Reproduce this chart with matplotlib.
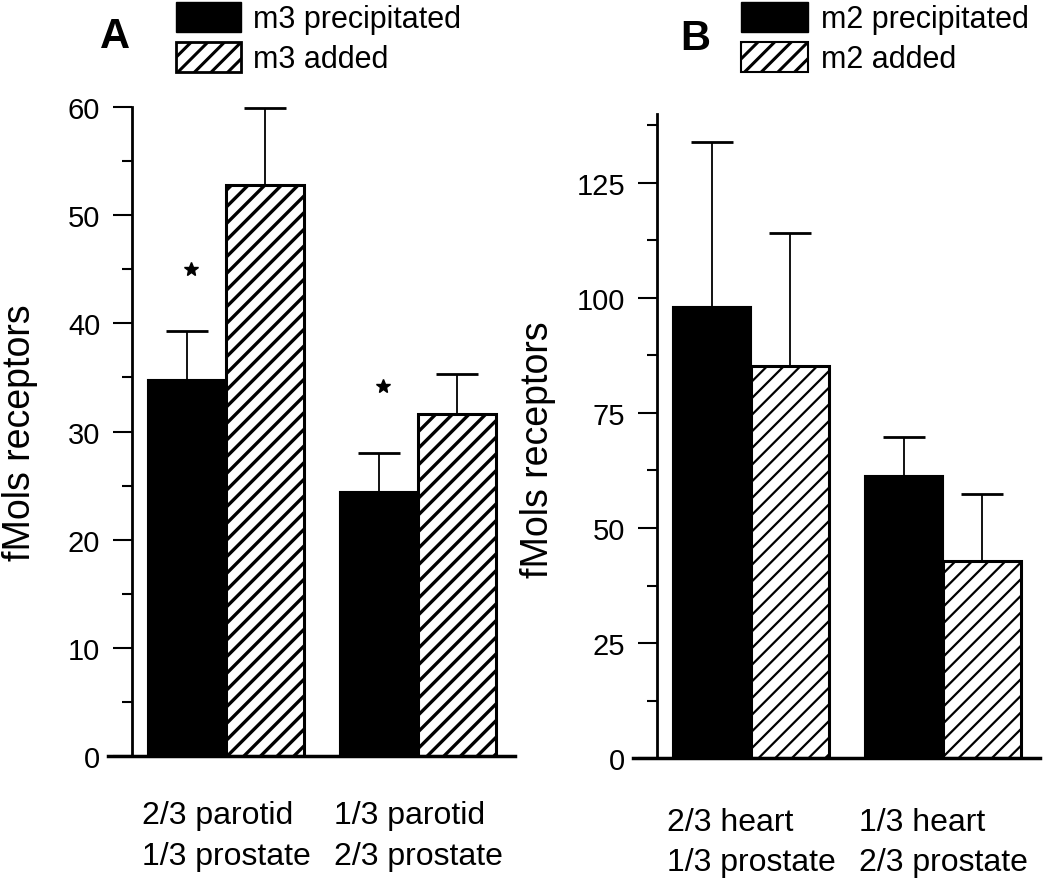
import numpy as np
import matplotlib
matplotlib.use('Agg')
import matplotlib.pyplot as plt
from matplotlib.patches import Patch
from matplotlib.ticker import MultipleLocator

plt.rcParams['font.family'] = ['Liberation Sans', 'DejaVu Sans']
plt.rcParams['hatch.linewidth'] = 2.2

# panel A data
groups_a = ['2/3 parotid\n1/3 prostate', '1/3 parotid\n2/3 prostate']
precip_a = [34.8, 24.4]
precip_a_err = [4.5, 3.6]
added_a = [52.8, 31.6]
added_a_err = [7.1, 3.7]
star_a = [45.0, 34.2]

# panel B data
groups_b = ['2/3 heart\n1/3 prostate', '1/3 heart\n2/3 prostate']
precip_b = [98.0, 61.3]
precip_b_err = [35.9, 8.5]
added_b = [85.2, 42.8]
added_b_err = [28.9, 14.6]

fig = plt.figure(figsize=(10.5, 8.79), dpi=100)
ax_a = fig.add_axes([0.1029, 0.1388, 0.3876, 0.7382])
ax_b = fig.add_axes([0.6029, 0.1365, 0.3876, 0.7327])


def draw_panel(ax, groups, precip, precip_err, added, added_err, ymax, major, minor,
               hatch_lw, xpad):
    x = np.arange(len(groups)) * 2.46
    ax.bar(x - 0.5, precip, width=1.0, color='black', edgecolor='black', linewidth=1.5)
    with plt.rc_context({'hatch.linewidth': hatch_lw}):
        ax.bar(x + 0.5, added, width=1.0, color='white', edgecolor='black',
               linewidth=2.2, hatch='//')
    ax.errorbar(x - 0.5, precip, yerr=[np.zeros(len(x)), precip_err], fmt='none',
                ecolor='black', elinewidth=1.3, capsize=15, capthick=2)
    ax.errorbar(x + 0.5, added, yerr=[np.zeros(len(x)), added_err], fmt='none',
                ecolor='black', elinewidth=1.3, capsize=15, capthick=2)
    ax.set_xlim(-1.51, x[-1] + 1.24)
    ax.set_ylim(0, ymax)
    ax.spines['left'].set_position(('data', -1.2))
    ax.spines['top'].set_visible(False)
    ax.spines['right'].set_visible(False)
    ax.spines['left'].set_linewidth(2)
    ax.spines['bottom'].set_linewidth(2.5)
    ax.yaxis.set_major_locator(MultipleLocator(major))
    ax.yaxis.set_minor_locator(MultipleLocator(minor))
    ax.tick_params(axis='y', which='major', direction='out', length=14, width=1.5,
                   labelsize=21, pad=9)
    ax.tick_params(axis='y', which='minor', direction='out', length=7, width=1.5)
    ax.set_xticks(x)
    ax.set_xticklabels(groups, fontsize=23, linespacing=1.45, multialignment='left')
    ax.tick_params(axis='x', length=0, pad=xpad)
    ax.set_ylabel('fMols receptors', fontsize=27)
    return x


xa = draw_panel(ax_a, groups_a, precip_a, precip_a_err, added_a, added_a_err,
                60, 10, 5, 2.4, 32)
ax_a.plot(xa - 0.45, star_a, linestyle='none', marker='*', color='black', markersize=10)
draw_panel(ax_b, groups_b, precip_b, precip_b_err, added_b, added_b_err,
           140, 25, 12.5, 1.6, 35)

ax_a.yaxis.set_label_coords(-0.172, 0.50)
ax_b.yaxis.set_label_coords(-0.19, 0.48)

fig.text(0.095, 0.958, 'A', fontsize=30, fontweight='bold', ha='left', va='center')
fig.text(0.648, 0.956, 'B', fontsize=30, fontweight='bold', ha='left', va='center')

handles_a = [Patch(facecolor='black', edgecolor='black'),
             Patch(facecolor='white', edgecolor='black', hatch='//', linewidth=2)]
handles_b = [Patch(facecolor='black', edgecolor='black'),
             Patch(facecolor='white', edgecolor='black', hatch='//', linewidth=1.5)]
fig.legend(handles_a, ['m3 precipitated', 'm3 added'], loc='upper left',
           bbox_to_anchor=(0.147, 1.021), frameon=False, fontsize=22,
           handlelength=2.15, handleheight=1.12, labelspacing=0.25, handletextpad=0.37,
           borderpad=0.2)
fig.legend(handles_b, ['m2 precipitated', 'm2 added'], loc='upper left',
           bbox_to_anchor=(0.6855, 1.021), frameon=False, fontsize=22,
           handlelength=2.2, handleheight=1.12, labelspacing=0.25, handletextpad=0.4,
           borderpad=0.2)

fig.savefig('out.png', dpi=100, facecolor='white')
